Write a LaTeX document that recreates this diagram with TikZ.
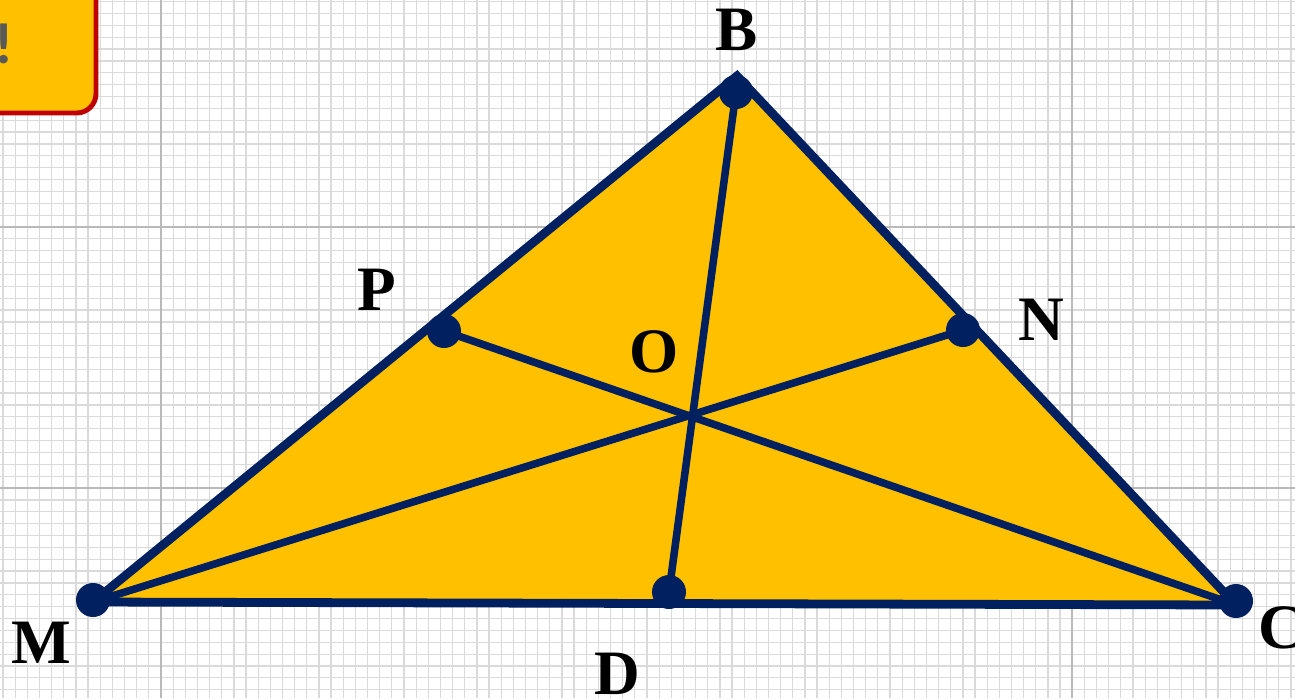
\documentclass[tikz,border=0pt]{standalone}
\usepackage{fontspec}
\setmainfont{Liberation Serif}
\newfontfamily\bangfont{Carlito}
\definecolor{gold}{RGB}{255,192,0}
\definecolor{navy}{RGB}{0,32,96}
\definecolor{boxred}{RGB}{192,0,0}
\definecolor{bang}{RGB}{89,89,89}
\definecolor{gridminor}{RGB}{218,218,218}
\definecolor{gridmajor}{RGB}{185,185,185}
\begin{document}
\begin{tikzpicture}[x=0.02cm,y=-0.02cm,
  minorline/.style={draw=gridminor,line width=0.7pt},
  majorline/.style={draw=gridmajor,line width=0.9pt},
  edge/.style={draw=navy,line width=5pt,line join=miter},
  median/.style={draw=navy,line width=4.3pt},
  dot/.style={circle,fill=navy,minimum size=0.68cm,inner sep=0pt},
  lbl/.style={font=\fontsize{36}{36}\selectfont\bfseries,inner sep=0pt,text=black}]
\useasboundingbox (0,0) rectangle (1295,698);
\fill[white] (0,0) rectangle (1295,698);
% grid
\begin{scope}
\clip (0,0) rectangle (1295,698);
\foreach \k in {-14,...,95} {
  \pgfmathsetmacro\xx{161+\k*12.15}
  \draw[minorline] (\xx,0) -- (\xx,698);
}
\foreach \k in {-20,...,40} {
  \pgfmathsetmacro\yy{227+\k*11.864}
  \draw[minorline] (0,\yy) -- (1295,\yy);
}
\foreach \xx in {161,1072} \draw[majorline] (\xx,0) -- (\xx,698);
\foreach \yy in {227,488} \draw[majorline] (0,\yy) -- (1295,\yy);
\end{scope}
% top-left box
\begin{scope}
\clip (0,0) rectangle (1295,698);
\draw[draw=boxred,fill=gold,line width=2.8pt,rounded corners=11pt] (-60,-60) rectangle (96,113);
\end{scope}
\node[font=\bangfont\fontsize{33}{33}\selectfont\bfseries,text=bang,inner sep=0pt] (bang) at (4,44) {!};
% points
\coordinate (M) at (93,602);
\coordinate (B) at (737,76);
\coordinate (C) at (1236,605);
\coordinate (P) at (444,331);
\coordinate (N) at (963,330);
\coordinate (D) at (669,592);
\coordinate (O) at (690,415);
% triangle
\fill[gold] (M) -- (B) -- (C) -- cycle;
\draw[median] (M) -- (N);
\draw[median] (C) -- (P);
\draw[median] (736,92) -- (D);
\draw[edge] (M) -- (B) -- (C) -- cycle;
% dots
\node[dot] (dM) at (93,600) {};
\node[dot] (dB) at (736,92) {};
\node[dot] (dC) at (1236,601) {};
\node[dot] (dP) at (444,331) {};
\node[dot] (dN) at (963,330) {};
\node[dot] (dD) at (669,592) {};
% labels
\node[lbl] (lB) at (737,30) {B};
\node[lbl] (lP) at (377,290) {P};
\node[lbl] (lO) at (654,352) {O};
\node[lbl] (lN) at (1041,320) {N};
\node[lbl] (lM) at (41,643) {M};
\node[lbl] (lD) at (617,674) {D};
\node[lbl] (lC) at (1281,628) {C};
\end{tikzpicture}
\end{document}
